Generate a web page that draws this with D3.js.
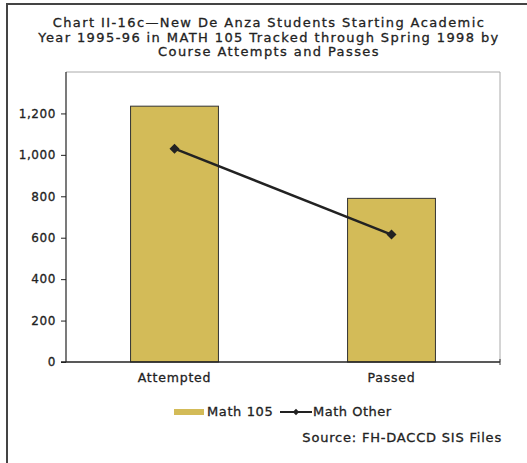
<!DOCTYPE html>
<html><head><meta charset="utf-8">
<script src="https://cdn.jsdelivr.net/npm/d3@7"></script>
<style>body{margin:0;background:#fff}svg{display:block;font-family:"DejaVu Sans",Arial,Helvetica,sans-serif}
svg text{stroke:#222;stroke-width:0.3px}</style>
</head><body>
<script>
const categories = ["Attempted", "Passed"];
const math105 = [1235, 790];
const mathOther = [1030, 615];
const yTicks = [0, 200, 400, 600, 800, 1000, 1200];
const titleLines = ["Chart II-16c\u2014New De Anza Students Starting Academic", "Year 1995-96 in MATH 105 Tracked through Spring 1998 by", "Course Attempts and Passes"];
const seriesNames = ["Math 105", "Math Other"];
const sourceText = "Source: FH-DACCD SIS Files";

const W = 527, H = 463;
const FONT = "DejaVu Sans, Arial, sans-serif";
const svg = d3.select("body").append("svg").attr("width", W).attr("height", H);
svg.append("rect").attr("width", W).attr("height", H).attr("fill", "#fff");
// frame
svg.append("path").attr("d", `M7,${H+5} L7,4 L${W+5},4`).attr("fill", "none").attr("stroke", "#444").attr("stroke-width", 2);

const m = {l: 66, t: 72, r: 500, b: 362};
const x = d3.scaleBand().domain(categories).range([m.l, m.r]).paddingInner(0.595).paddingOuter(0.2975);
const y = d3.scaleLinear().domain([0, 1400]).range([m.b, m.t]);

// title
svg.append("g").selectAll("text").data(titleLines).join("text")
  .attr("x", 269).attr("y", (d, i) => 27 + i * 14.7).attr("text-anchor", "middle")
  .attr("font-size", 13).attr("letter-spacing", 1.4).attr("fill", "#222").text(d => d);

// plot border top/right
svg.append("path").attr("d", `M${m.l},${m.t} L${m.r},${m.t} L${m.r},${m.b}`).attr("fill", "none").attr("stroke", "#aaa").attr("stroke-width", 1);

// bars
svg.append("g").selectAll("rect").data(math105).join("rect")
  .attr("x", (d, i) => x(categories[i])).attr("width", x.bandwidth())
  .attr("y", d => y(d)).attr("height", d => y(0) - y(d))
  .attr("fill", "#d3bb58").attr("stroke", "#333").attr("stroke-width", 1);

// axes
const ya = svg.append("g").attr("transform", `translate(${m.l},0)`)
  .call(d3.axisLeft(y).tickValues(yTicks).tickFormat(d3.format(",")).tickSize(5).tickPadding(5));
ya.select(".domain").attr("stroke", "#222").attr("stroke-width", 1.2).attr("d", `M0,${m.b}V${m.t}`);
ya.selectAll(".tick line").attr("stroke", "#222");
ya.selectAll("text").attr("font-size", 12).attr("letter-spacing", 0.6).attr("fill", "#222").attr("font-family", FONT);

const xa = svg.append("g").attr("transform", `translate(0,${m.b})`)
  .call(d3.axisBottom(x).tickSize(0).tickPadding(11));
xa.select(".domain").attr("stroke", "#222").attr("stroke-width", 1.5).attr("d", `M${m.l - 5},0H${m.r}`);
xa.selectAll("text").attr("font-size", 12.5).attr("letter-spacing", 0.8).attr("fill", "#222").attr("font-family", FONT);
svg.append("line").attr("x1", m.r).attr("x2", m.r).attr("y1", m.b - 3).attr("y2", m.b + 3).attr("stroke", "#333");

// line
const line = d3.line().x((d, i) => x(categories[i]) + x.bandwidth() / 2).y(d => y(d));
svg.append("path").datum(mathOther).attr("d", line).attr("fill", "none").attr("stroke", "#222").attr("stroke-width", 2.5);
const diamond = d3.symbol().type(d3.symbolSquare).size(50);
svg.append("g").selectAll("path").data(mathOther).join("path")
  .attr("d", diamond)
  .attr("transform", (d, i) => `translate(${x(categories[i]) + x.bandwidth() / 2},${y(d)}) rotate(45)`)
  .attr("fill", "#222");

// legend
const lg = svg.append("g");
lg.append("rect").attr("x", 174).attr("y", 409).attr("width", 30).attr("height", 6).attr("fill", "#d3bb58");
lg.append("text").attr("x", 207).attr("y", 416).attr("font-size", 13).attr("letter-spacing", 0.6).attr("fill", "#222").text(seriesNames[0]);
lg.append("line").attr("x1", 280).attr("x2", 312).attr("y1", 412).attr("y2", 412).attr("stroke", "#222").attr("stroke-width", 2);
lg.append("path").attr("d", d3.symbol().type(d3.symbolSquare).size(20)).attr("transform", "translate(296,412) rotate(45)").attr("fill", "#222");
lg.append("text").attr("x", 313).attr("y", 416).attr("font-size", 13).attr("letter-spacing", 0.5).attr("fill", "#222").text(seriesNames[1]);

svg.append("text").attr("x", 502).attr("y", 442).attr("text-anchor", "end").attr("font-size", 13).attr("letter-spacing", 0.8).attr("fill", "#222").text(sourceText);
</script>
</body></html>
